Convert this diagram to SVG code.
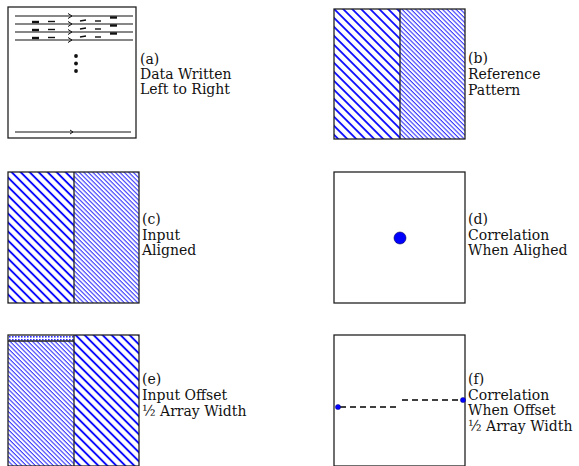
<svg xmlns="http://www.w3.org/2000/svg" width="579" height="466" viewBox="0 0 579 466">
<style>
.box{fill:none;stroke:#222;stroke-width:1.3}
.div{stroke:#222;stroke-width:1.3}
.ln{stroke:#111;stroke-width:1.2;fill:none}
.dash{stroke:#111;stroke-width:1.4}
.dashT{stroke:#111;stroke-width:2.4}
.lbl{font-family:"DejaVu Serif","Liberation Serif",serif;font-size:14px;fill:#111}
</style>
<defs>
<pattern id="thick" patternUnits="userSpaceOnUse" width="6.36" height="10" patternTransform="rotate(-45)">
<rect width="6.36" height="10" fill="#fff"/>
<line x1="1" y1="-1" x2="1" y2="11" stroke="#0000ff" stroke-width="1.8"/>
</pattern>
<pattern id="thin" patternUnits="userSpaceOnUse" width="3.18" height="10" patternTransform="rotate(-45)">
<rect width="3.18" height="10" fill="#fff"/>
<line x1="1" y1="-1" x2="1" y2="11" stroke="#2020ff" stroke-width="1.0"/>
</pattern>
<pattern id="dots" patternUnits="userSpaceOnUse" width="3" height="3">
<rect width="3" height="3" fill="#fff"/>
<rect width="1.6" height="1.6" fill="#3030ff"/>
</pattern>
</defs>

<g id="panel-a">
<rect class="box" x="8" y="7" width="128" height="131"/>
<g class="ln">
<line x1="15" y1="16" x2="133" y2="16"/>
<line x1="15" y1="24" x2="133" y2="24"/>
<line x1="15" y1="32" x2="133" y2="32"/>
<line x1="15" y1="40" x2="133" y2="40"/>
<line x1="15" y1="132" x2="131" y2="132"/>
<path d="M68,13.5 L72,16 L68,18.5" stroke-width="1"/>
<path d="M68,21.5 L72,24 L68,26.5" stroke-width="1"/>
<path d="M68,29.5 L72,32 L68,34.5" stroke-width="1"/>
<path d="M68,37.5 L72,40 L68,42.5" stroke-width="1"/>
<path d="M70,130 L73,132 L70,134" stroke-width="1"/>
</g>
<g>
<line class="dashT" x1="32" y1="22" x2="39" y2="22"/>
<line class="dash" x1="48" y1="21.5" x2="55" y2="21.5"/>
<line class="dash" x1="80" y1="21" x2="86" y2="20"/>
<line class="dash" x1="95" y1="21" x2="101" y2="21"/>
<line class="dashT" x1="110" y1="17.5" x2="117" y2="17.5"/>
<line class="dashT" x1="32" y1="30" x2="39" y2="30"/>
<line class="dash" x1="48" y1="29.5" x2="55" y2="29.5"/>
<line class="dash" x1="80" y1="29" x2="86" y2="28"/>
<line class="dash" x1="95" y1="29" x2="101" y2="29"/>
<line class="dashT" x1="110" y1="25.5" x2="117" y2="25.5"/>
<line class="dashT" x1="32" y1="38" x2="39" y2="38"/>
<line class="dash" x1="48" y1="37.5" x2="55" y2="37.5"/>
<line class="dash" x1="80" y1="37" x2="86" y2="36"/>
<line class="dash" x1="95" y1="37" x2="101" y2="37"/>
<line class="dashT" x1="110" y1="33.5" x2="117" y2="33.5"/>
</g>
<circle cx="76" cy="56" r="1.9" fill="#111"/>
<circle cx="76" cy="63.5" r="1.9" fill="#111"/>
<circle cx="76" cy="71" r="1.9" fill="#111"/>
<text class="lbl" x="140" y="64">(a)</text>
<text class="lbl" x="140" y="79">Data Written</text>
<text class="lbl" x="140" y="94">Left to Right</text>
</g>

<g id="panel-b">
<rect x="334" y="9" width="66" height="130" fill="url(#thick)"/>
<rect x="400" y="9" width="65" height="130" fill="url(#thin)"/>
<rect class="box" x="334" y="9" width="131" height="130"/>
<line class="div" x1="400" y1="9" x2="400" y2="139"/>
<text class="lbl" x="468" y="63">(b)</text>
<text class="lbl" x="468" y="79">Reference</text>
<text class="lbl" x="468" y="95">Pattern</text>
</g>

<g id="panel-c">
<rect x="8" y="172" width="66" height="131" fill="url(#thick)"/>
<rect x="74" y="172" width="65" height="131" fill="url(#thin)"/>
<rect class="box" x="8" y="172" width="131" height="131"/>
<line class="div" x1="74" y1="172" x2="74" y2="303"/>
<text class="lbl" x="142" y="224">(c)</text>
<text class="lbl" x="142" y="240">Input</text>
<text class="lbl" x="142" y="255">Aligned</text>
</g>

<g id="panel-d">
<rect class="box" x="334" y="172" width="131" height="131"/>
<circle cx="400" cy="238" r="6" fill="#0000ff" stroke="#000060" stroke-width="0.6"/>
<text class="lbl" x="468" y="224">(d)</text>
<text class="lbl" x="468" y="240">Correlation</text>
<text class="lbl" x="468" y="255">When Alighed</text>
</g>

<g id="panel-e">
<rect x="8" y="335" width="66" height="131" fill="url(#thin)"/>
<rect x="8" y="335" width="66" height="6" fill="url(#dots)"/>
<line class="div" x1="8" y1="341" x2="74" y2="341"/>
<rect x="74" y="335" width="65" height="131" fill="url(#thick)"/>
<rect class="box" x="8" y="335" width="131" height="131"/>
<line class="div" x1="74" y1="335" x2="74" y2="466"/>
<text class="lbl" x="142" y="384">(e)</text>
<text class="lbl" x="142" y="400">Input Offset</text>
<text class="lbl" x="142" y="416">½ Array Width</text>
</g>

<g id="panel-f">
<rect class="box" x="334" y="335" width="131" height="131"/>
<g id="connectors">
<line x1="340" y1="407" x2="400" y2="407" stroke="#000" stroke-width="1.3" stroke-dasharray="6,4"/>
<line x1="402" y1="400" x2="461" y2="400" stroke="#000" stroke-width="1.3" stroke-dasharray="6,4"/>
</g>
<circle cx="338" cy="407" r="2.6" fill="#0000ff" stroke="#000060" stroke-width="0.4"/>
<circle cx="463" cy="400" r="2.6" fill="#0000ff" stroke="#000060" stroke-width="0.4"/>
<text class="lbl" x="468" y="384">(f)</text>
<text class="lbl" x="468" y="400">Correlation</text>
<text class="lbl" x="468" y="415">When Offset</text>
<text class="lbl" x="468" y="431">½ Array Width</text>
</g>
</svg>
